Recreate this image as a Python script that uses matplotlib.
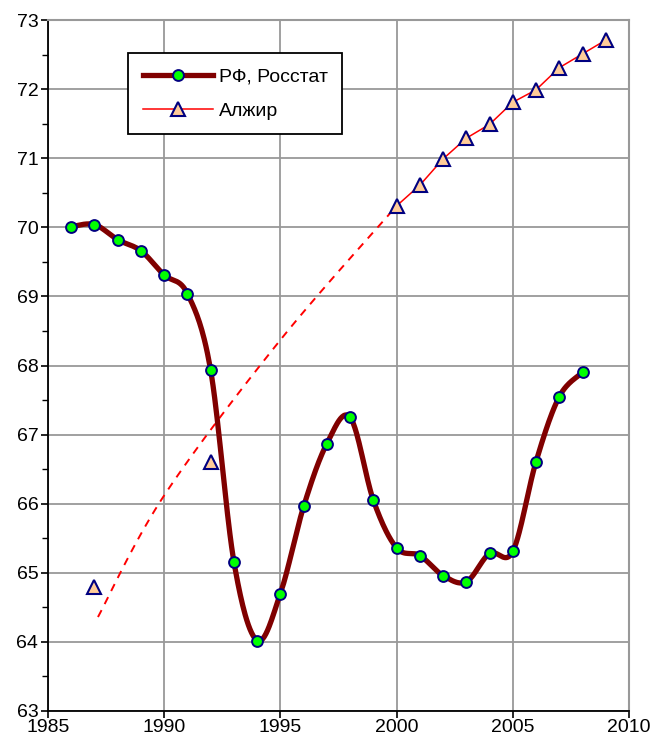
import numpy as np
import matplotlib
matplotlib.use("Agg")
import matplotlib.pyplot as plt
from matplotlib.ticker import MultipleLocator

plt.rcParams['font.family'] = ['Liberation Sans', 'DejaVu Sans']

# life expectancy, Russia (Rosstat)
rf_years = [1986, 1987, 1988, 1989, 1990, 1991, 1992, 1993, 1994, 1995, 1996, 1997,
            1998, 1999, 2000, 2001, 2002, 2003, 2004, 2005, 2006, 2007, 2008]
rf_values = [70.01, 70.04, 69.82, 69.66, 69.31, 69.04, 67.93, 65.16, 64.02, 64.70, 65.96, 66.87,
             67.25, 66.05, 65.36, 65.25, 64.96, 64.87, 65.28, 65.31, 66.61, 67.55, 67.90]

# Algeria: separate early points + continuous series from 2000
dz_early_years = [1987, 1992]
dz_early_values = [64.80, 66.60]
dz_years = [2000, 2001, 2002, 2003, 2004, 2005, 2006, 2007, 2008, 2009]
dz_values = [70.31, 70.61, 70.99, 71.29, 71.49, 71.81, 71.99, 72.31, 72.51, 72.71]

# dashed estimate for Algeria 1987-2000
dz_est_years = [1987.15, 1990, 1995, 2000]
dz_est_values = [64.36, 66.12, 68.37, 70.31]


def smooth(xs, ys, n=30):
    # catmull-rom style bezier, like the spreadsheet "smoothed line"
    p = np.column_stack([xs, ys]).astype(float)
    pts = [p[0]]
    for i in range(len(p) - 1):
        p0 = p[i - 1] if i > 0 else p[i]
        p1, p2 = p[i], p[i + 1]
        p3 = p[i + 2] if i + 2 < len(p) else p[i + 1]
        c1 = p1 + (p2 - p0) / 6
        c2 = p2 - (p3 - p1) / 6
        t = np.linspace(0, 1, n)[1:, None]
        seg = (1 - t) ** 3 * p1 + 3 * (1 - t) ** 2 * t * c1 + 3 * (1 - t) * t ** 2 * c2 + t ** 3 * p2
        pts.extend(seg)
    pts = np.array(pts)
    return pts[:, 0], pts[:, 1]


fig = plt.figure(figsize=(6.61, 7.47), dpi=100)
ax = fig.add_axes([0.0726, 0.0482, 0.879, 0.925])

# dashed estimate (no legend entry)
sx, sy = smooth(dz_est_years, dz_est_values)
ax.plot(sx, sy, color='red', lw=1.4, ls=(0, (4, 3.5)), zorder=3)

# Algeria
ax.plot(dz_years, dz_values, color='red', lw=1.1, marker='^', ms=9.5,
        mfc='#FFCC99', mec='#000080', mew=1.5, label='Алжир', zorder=4)
ax.plot(dz_early_years, dz_early_values, ls='none', marker='^', ms=9.5,
        mfc='#FFCC99', mec='#000080', mew=1.5, zorder=4)

# Russia
sx, sy = smooth(rf_years, rf_values)
ax.plot(sx, sy, color='#800000', lw=3.8, solid_capstyle='round', zorder=5)
ax.plot(rf_years, rf_values, ls='none', marker='o', ms=7.8,
        mfc='#00FF00', mec='#000080', mew=1.4, zorder=6)
# legend proxy
ax.plot([], [], color='#800000', lw=3.8, marker='o', ms=7.8,
        mfc='#00FF00', mec='#000080', mew=1.4, label='РФ, Росстат')

ax.set_xlim(1985, 2010)
ax.set_ylim(63, 73)
ax.xaxis.set_major_locator(MultipleLocator(5))
ax.yaxis.set_major_locator(MultipleLocator(1))
ax.yaxis.set_minor_locator(MultipleLocator(0.5))
ax.grid(True, which='major', color='#999999', lw=1.3)
ax.set_axisbelow(True)

for s in ['top', 'right']:
    ax.spines[s].set_color('#999999')
    ax.spines[s].set_linewidth(1.5)
for s in ['left', 'bottom']:
    ax.spines[s].set_color('black')
    ax.spines[s].set_linewidth(1.3)

ax.tick_params(which='major', direction='out', length=5, width=1.2, labelsize=14, pad=2)
ax.tick_params(which='minor', direction='out', length=4, width=1.0)
ax.tick_params(axis='x', pad=1)

handles, labels = ax.get_legend_handles_labels()
order = [labels.index('РФ, Росстат'), labels.index('Алжир')]
leg = ax.legend([handles[i] for i in order], [labels[i] for i in order],
                loc='upper left', bbox_to_anchor=(0.138, 0.952), borderaxespad=0,
                fontsize=14, frameon=True, fancybox=False, edgecolor='black', framealpha=1,
                handlelength=3.6, borderpad=0.75, labelspacing=0.85, handletextpad=0.3)
leg.get_frame().set_linewidth(1.3)

fig.savefig('out.png', dpi=100)
